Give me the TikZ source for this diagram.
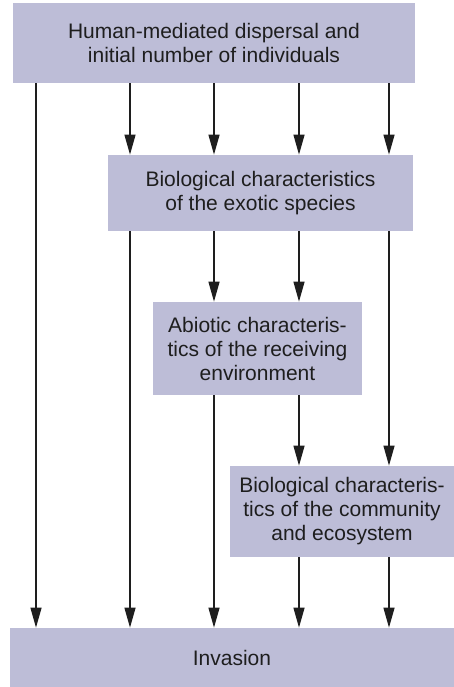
\documentclass[tikz,border=0pt]{standalone}
\usepackage{fontspec}
\setmainfont{Liberation Sans}
\usetikzlibrary{arrows.meta}
\definecolor{boxfill}{RGB}{189,189,215}
\definecolor{ink}{RGB}{30,30,30}
\tikzset{
  box/.style={fill=boxfill, inner sep=0pt, align=center, text=ink,
    font=\fontsize{10.5}{12}\selectfont},
  arr/.style={-{Triangle[length=10pt,width=5.5pt]}, line width=0.65pt, draw=ink}
}
\begin{document}
\begin{tikzpicture}[x=0.5pt,y=-0.5pt]
\useasboundingbox (0,0) rectangle (454,687);
% boxes
\node[box, minimum width=201pt, minimum height=40pt] (human) at (214,43)
  {Human-mediated dispersal and\\initial number of individuals};
\node[box, minimum width=152.5pt, minimum height=38pt] (exotic) at (260.5,193)
  {Biological characteristics\\of the exotic species};
\node[box, minimum width=104.5pt, minimum height=46.5pt] (abiotic) at (257.5,348.5)
  {Abiotic characteris-\\tics of the receiving\\environment};
\node[box, minimum width=112pt, minimum height=45.5pt] (community) at (342,511.5)
  {Biological characteris-\\tics of the community\\and ecosystem};
\node[box, minimum width=222pt, minimum height=29.5pt] (invasion) at (232,657.5)
  {Invasion};
% columns of the arrows
\coordinate (c1) at (36,0);
\coordinate (c2) at (130,0);
\coordinate (c3) at (214,0);
\coordinate (c4) at (299,0);
\coordinate (c5) at (389,0);
% arrows
\draw[arr] (human.south -| c1) -- (invasion.north -| c1);
\foreach \c in {c2,c3,c4,c5}
  \draw[arr] (human.south -| \c) -- (exotic.north -| \c);
\draw[arr] (exotic.south -| c2) -- (invasion.north -| c2);
\draw[arr] (exotic.south -| c3) -- (abiotic.north -| c3);
\draw[arr] (exotic.south -| c4) -- (abiotic.north -| c4);
\draw[arr] (exotic.south -| c5) -- (community.north -| c5);
\draw[arr] (abiotic.south -| c3) -- (invasion.north -| c3);
\draw[arr] (abiotic.south -| c4) -- (community.north -| c4);
\draw[arr] (community.south -| c4) -- (invasion.north -| c4);
\draw[arr] (community.south -| c5) -- (invasion.north -| c5);
\end{tikzpicture}
\end{document}
